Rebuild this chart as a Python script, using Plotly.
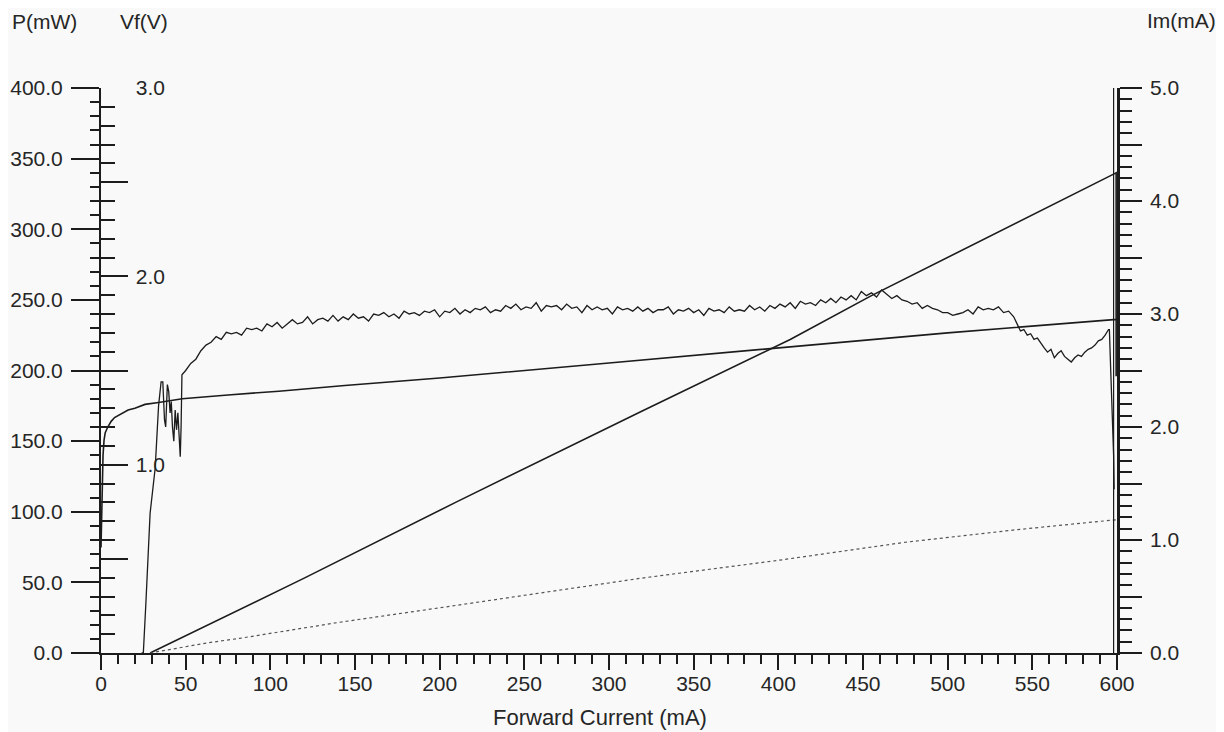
import plotly.graph_objects as go

# ---------------- data ----------------
# noisy curve (plotted against the P(mW) scale)
noisy_current = [24, 25, 26.5, 29, 32, 34, 35.5, 36.5, 37.5, 38.2, 39.2, 40.0, 40.8, 41.5, 42.2, 43.0,
                 43.8, 44.6, 45.4, 46.2, 46.8, 47.3, 47.8,
                 50, 53, 56, 59, 62, 65, 68, 71, 74, 77, 80, 83, 86, 89, 92, 95, 98, 101, 104, 107,
                 110, 113, 116, 119, 122, 125, 128, 131, 134, 137, 140, 143, 146, 149, 152, 155, 158,
                 161, 164, 167, 170, 173, 176, 179, 182, 185, 188, 191, 194, 197, 200, 203, 206, 209,
                 212, 215, 218, 221, 224, 227, 230, 233, 236, 239, 242, 245, 248, 251, 254, 257, 260,
                 263, 266, 269, 272, 275, 278, 281, 284, 287, 290, 293, 296, 299, 302, 305, 308, 311,
                 314, 317, 320, 323, 326, 329, 332, 335, 338, 341, 344, 347, 350, 353, 356, 359, 362,
                 365, 368, 371, 374, 377, 380, 383, 386, 389, 392, 395, 398, 401, 404, 407, 410, 413,
                 416, 419, 422, 425, 428, 431, 434, 437, 440, 443, 446, 449, 452, 455, 458, 461, 464,
                 467, 470, 473, 476, 479, 482, 485, 488, 491, 494, 497, 500, 503, 506, 509, 512, 515,
                 518, 521, 524, 527, 530, 533, 536, 539, 541, 543, 545, 547, 549, 551, 553, 555, 557,
                 559, 561, 563, 565, 567, 569, 571, 573, 575, 577, 579, 581, 583, 585, 587, 589, 591,
                 593, 595, 595.5, 596.3, 597.3, 598.0, 598.3]
noisy_value = [0, 0, 35, 99, 131, 175, 192, 192, 165, 160, 190, 185, 170, 178, 160, 150,
               172, 158, 170, 155, 139, 160, 197,
               200, 205, 208, 214, 218, 220, 224, 222, 227, 226, 227, 225, 230, 229, 230, 228, 233, 231, 234, 230,
               233, 236, 233, 234, 238, 233, 236, 237, 235, 239, 235, 238, 236, 240, 237, 238, 235,
               240, 239, 241, 238, 240, 237, 242, 240, 241, 239, 242, 241, 243, 238, 242, 241, 244,
               240, 243, 241, 244, 243, 245, 241, 243, 242, 246, 244, 247, 243, 245, 244, 248, 242,
               246, 245, 246, 243, 247, 244, 245, 241, 246, 243, 245, 243, 244, 240, 245, 243, 244,
               242, 245, 242, 244, 241, 243, 243, 245, 240, 243, 242, 244, 241, 243, 239, 244, 242,
               243, 241, 245, 242, 243, 242, 246, 243, 245, 242, 246, 244, 247, 245, 248, 244, 249,
               247, 248, 246, 250, 248, 251, 248, 252, 250, 253, 250, 256, 253, 255, 252, 257, 254,
               251, 253, 250, 249, 247, 248, 244, 246, 244, 243, 241, 241, 239, 240, 241, 243, 240,
               245, 243, 244, 243, 245, 241, 242, 238, 233, 228, 229, 225, 226, 222, 223, 219, 216,
               213, 215, 209, 212, 214, 210, 208, 206, 209, 211, 210, 213, 215, 216, 218, 221, 222,
               225, 229, 229, 200, 170, 140, 116]

# forward voltage Vf(V)
vf_current = [0, 0.4, 0.8, 1.2, 1.8, 2.5, 4, 6, 8, 12, 16, 20, 26, 34, 48, 75, 105, 144, 200,
              300, 400, 500, 598, 600]
vf_value = [0.56, 0.75, 0.92, 1.05, 1.13, 1.17, 1.20, 1.23, 1.25, 1.27, 1.29, 1.30, 1.32, 1.33,
            1.35, 1.37, 1.39, 1.42, 1.46, 1.54, 1.62, 1.70, 1.77, 1.77]

# optical power P(mW)
p_current = [29, 120, 210, 319, 407, 455, 598, 599.5, 599.5]
p_value = [0, 53, 107, 171, 222, 253, 339, 340, 196]

# monitor current Im(mA), dotted
im_current = [29, 63, 82, 140, 200, 260, 318, 400, 475, 540, 598, 600]
im_value = [0, 0.09, 0.13, 0.27, 0.40, 0.53, 0.66, 0.82, 0.98, 1.09, 1.18, 1.18]

# tick labels
x_ticks = [0, 50, 100, 150, 200, 250, 300, 350, 400, 450, 500, 550, 600]
p_ticks = [0, 50, 100, 150, 200, 250, 300, 350, 400]
vf_ticks = [0.5, 1.0, 1.5, 2.0, 2.5, 3.0]
vf_ticktext = ["", "1.0", "", "2.0", "", "3.0"]
im_ticks = [0, 0.5, 1.0, 1.5, 2.0, 2.5, 3.0, 3.5, 4.0, 4.5, 5.0]
im_ticktext = ["0.0", "", "1.0", "", "2.0", "", "3.0", "", "4.0", "", "5.0"]

# ---------------- figure ----------------
INK = "#1c1c1c"
FONT = "Liberation Sans"
TXT = "#262626"

fig = go.Figure()
fig.add_trace(go.Scatter(x=noisy_current, y=noisy_value, mode="lines", yaxis="y",
                         line=dict(color=INK, width=1.3), showlegend=False))
fig.add_trace(go.Scatter(x=p_current, y=p_value, mode="lines", yaxis="y",
                         line=dict(color=INK, width=1.6), showlegend=False))
fig.add_trace(go.Scatter(x=vf_current, y=vf_value, mode="lines", yaxis="y2",
                         line=dict(color=INK, width=1.6), showlegend=False))
fig.add_trace(go.Scatter(x=im_current, y=im_value, mode="lines", yaxis="y3",
                         line=dict(color="#555555", width=1.2, dash="dot"), showlegend=False))

tickfont = dict(family=FONT, size=21, color=TXT)

# page has an 8px body margin: figure is 1216x724 drawn from (8,8)
fig.update_layout(
    width=1216, height=724,
    margin=dict(l=93, r=107, t=80, b=79, autoexpand=False),
    paper_bgcolor="#f8f9f8", plot_bgcolor="rgba(0,0,0,0)",
    font=dict(family=FONT, size=21, color=TXT),
    xaxis=dict(range=[0, 600], tickvals=x_ticks, ticks="outside", ticklen=15, tickwidth=2,
               tickcolor=INK, showline=True, linecolor=INK, linewidth=2, showgrid=False,
               zeroline=False, tickfont=tickfont, ticklabelstandoff=-4, automargin=False,
               minor=dict(dtick=10, ticks="outside", ticklen=9, tickwidth=2, tickcolor=INK,
                          showgrid=False)),
    yaxis=dict(range=[0, 400], tickvals=p_ticks, tickformat=".1f", ticks="outside", ticklen=28,
               tickwidth=2, tickcolor=INK, showline=True, linecolor=INK, linewidth=2,
               showgrid=False, zeroline=False, tickfont=tickfont, ticklabelstandoff=4,
               automargin=False,
               minor=dict(dtick=10, ticks="outside", ticklen=9, tickwidth=2, tickcolor=INK,
                          showgrid=False)),
    yaxis2=dict(range=[0, 3.0], overlaying="y", side="left", anchor="x",
                tickvals=vf_ticks, ticktext=vf_ticktext, ticks="inside", ticklen=27,
                tickwidth=2, tickcolor=INK, ticklabelposition="inside",
                ticklabeloverflow="allow", showline=False, showgrid=False, zeroline=False,
                tickfont=tickfont, automargin=False, ticklabelstandoff=9,
                minor=dict(dtick=0.1, ticks="inside", ticklen=14, tickwidth=2, tickcolor=INK,
                           showgrid=False)),
    yaxis3=dict(range=[0, 5.0], overlaying="y", side="right", anchor="x",
                tickvals=im_ticks, ticktext=im_ticktext, ticks="outside", ticklen=22,
                tickwidth=2, tickcolor=INK, showline=True, linecolor=INK, linewidth=2.5,
                showgrid=False, zeroline=False, tickfont=tickfont, ticklabelstandoff=4,
                ticklabelposition="outside", automargin=False,
                minor=dict(dtick=0.1, ticks="outside", ticklen=12, tickwidth=2, tickcolor=INK,
                           showgrid=False)),
    annotations=[
        dict(text="P(mW)", xref="paper", yref="paper", x=-0.0896, y=1.117,
             xanchor="left", yanchor="middle", showarrow=False,
             font=dict(family=FONT, size=21, color=TXT)),
        dict(text="Vf(V)", xref="paper", yref="paper", x=0.0167, y=1.117,
             xanchor="left", yanchor="middle", showarrow=False,
             font=dict(family=FONT, size=21, color=TXT)),
        dict(text="Im(mA)", xref="paper", yref="paper", x=1.099, y=1.120,
             xanchor="right", yanchor="middle", showarrow=False,
             font=dict(family=FONT, size=21, color=TXT)),
        dict(text="Forward Current (mA)", xref="paper", yref="paper", x=0.491, y=-0.115,
             xanchor="center", yanchor="middle", showarrow=False,
             font=dict(family=FONT, size=22, color=TXT)),
    ],
    shapes=[
        dict(type="line", xref="x", yref="paper", x0=598, x1=598, y0=0, y1=1.0,
             line=dict(color=INK, width=1.2)),
    ],
)

fig.write_html("out.html")
